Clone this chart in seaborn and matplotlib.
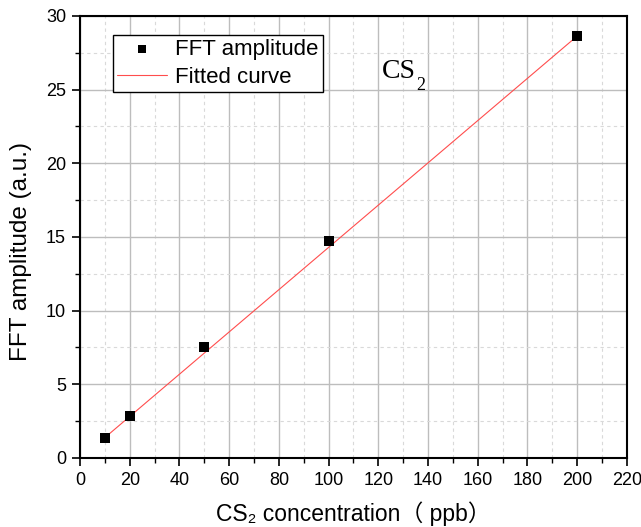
import matplotlib
matplotlib.use("Agg")
import matplotlib.pyplot as plt
import seaborn as sns
import pandas as pd
from matplotlib.ticker import MultipleLocator

# measured points
conc = [10, 20, 50, 100, 200]
amp = [1.35, 2.85, 7.5, 14.7, 28.65]

# fitted line, read at its two ends
fit_x = [10, 200]
fit_y = [1.38, 28.62]

sns.set_style("ticks")
plt.rcParams['font.family'] = ['Liberation Sans', 'DejaVu Sans', 'Noto Sans CJK SC']
plt.rcParams['text.color'] = 'black'
plt.rcParams['axes.labelcolor'] = 'black'
plt.rcParams['xtick.color'] = 'black'
plt.rcParams['ytick.color'] = 'black'

df = pd.DataFrame({"conc": conc, "amp": amp})
df_fit = pd.DataFrame({"x": fit_x, "y": fit_y})

fig = plt.figure(figsize=(6.41, 5.27), dpi=100)
ax = fig.add_axes([0.1248, 0.131, 0.853, 0.839])

sns.lineplot(data=df_fit, x="x", y="y", ax=ax, color="#ff4d4d", linewidth=0.8,
             label="Fitted curve", zorder=3)
sns.scatterplot(data=df, x="conc", y="amp", ax=ax, marker="s", s=55, color="black",
                linewidth=0, label="FFT amplitude", zorder=4)

ax.set_xlim(0, 220)
ax.set_ylim(0, 30)
ax.xaxis.set_major_locator(MultipleLocator(20))
ax.xaxis.set_minor_locator(MultipleLocator(10))
ax.yaxis.set_major_locator(MultipleLocator(5))
ax.yaxis.set_minor_locator(MultipleLocator(2.5))
ax.grid(which="major", color="#bdbdbd", linewidth=1.0, linestyle="-")
ax.grid(which="minor", color="#d9d9d9", linewidth=0.8, linestyle=(0, (3, 3)))
ax.set_axisbelow(True)

ax.tick_params(which="major", direction="out", length=6, width=1.2, labelsize=13,
               pad=4, top=False, right=False)
ax.tick_params(which="minor", direction="out", length=3.5, width=1.0,
               top=False, right=False)
for sp in ax.spines.values():
    sp.set_linewidth(1.5)
    sp.set_color("black")
    sp.set_visible(True)

ax.set_xlabel("CS\u2082 concentration\uff08 ppb\uff09", fontsize=16.5, labelpad=9)
ax.set_ylabel("FFT amplitude (a.u.)", fontsize=17.5)
ax.yaxis.set_label_coords(-0.087, 0.468)

# species label, subscript placed by hand
ax.text(121.5, 25.8, "CS", fontsize=20, family="Liberation Serif", va="baseline")
ax.annotate("2", xy=(121.5, 25.8), xytext=(24.5, -8.5), textcoords="offset points",
            fontsize=13, family="Liberation Serif", va="baseline")

handles, labels = ax.get_legend_handles_labels()
order = [labels.index("FFT amplitude"), labels.index("Fitted curve")]
leg = ax.legend([handles[i] for i in order], [labels[i] for i in order],
                loc="upper left", bbox_to_anchor=(0.0603, 0.957), borderaxespad=0,
                fontsize=16, frameon=True, fancybox=False, edgecolor="black",
                framealpha=1, handlelength=2.25, handletextpad=0.36,
                labelspacing=0.3, borderpad=0.2, markerscale=0.85)
leg.get_frame().set_linewidth(1.0)

fig.savefig("out.png", dpi=100)
